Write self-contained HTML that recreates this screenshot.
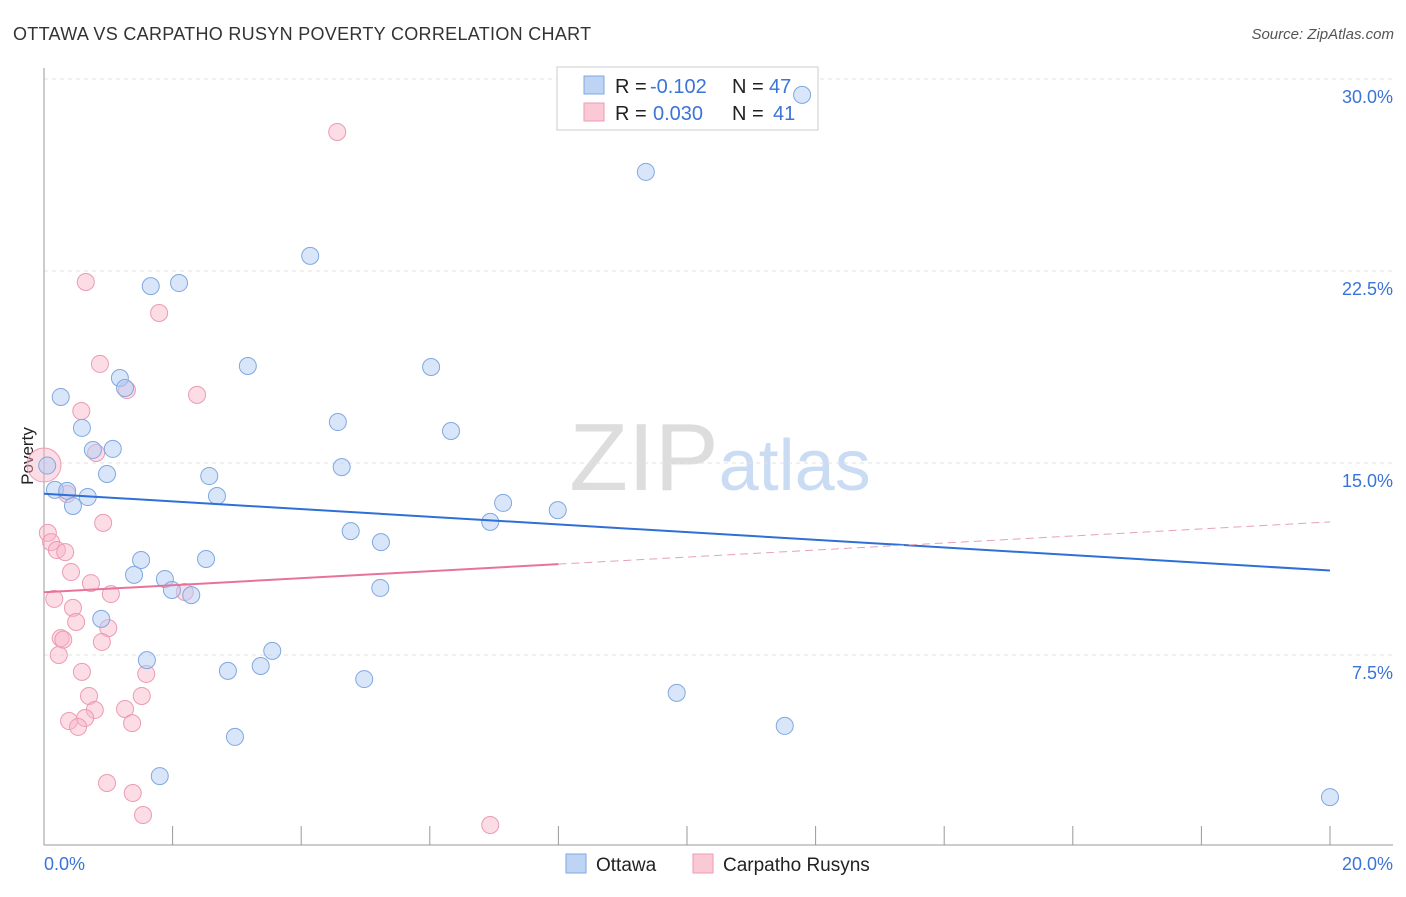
<!DOCTYPE html>
<html><head><meta charset="utf-8"><style>
body{margin:0;background:#fff;font-family:"Liberation Sans",sans-serif}
svg text{font-family:"Liberation Sans",sans-serif}
</style></head><body>
<svg id="chart" width="1406" height="892" xmlns="http://www.w3.org/2000/svg">
<text x="13" y="40" font-size="18" fill="#333" letter-spacing="0.3">OTTAWA VS CARPATHO RUSYN POVERTY CORRELATION CHART</text>
<text x="1394" y="39" font-size="15" fill="#555" font-style="italic" text-anchor="end">Source: ZipAtlas.com</text>
<text x="720" y="490" font-size="96" text-anchor="middle" fill="#ddd" font-family="Liberation Serif">ZIP<tspan fill="#c9dcf3" font-family="Liberation Sans" font-size="72">atlas</tspan></text>
<g id="grid"></g><g id="axes"></g>
<text transform="translate(33,456) rotate(-90)" font-size="17" fill="#222" text-anchor="middle">Poverty</text>
<g>
<rect x="557" y="67" width="261" height="63" fill="#fff" stroke="#ccc"/>
<rect x="584" y="76" width="20" height="18" fill="#bdd4f5" stroke="#7fa8e0"/>
<rect x="584" y="103" width="20" height="18" fill="#fbc9d6" stroke="#ec9ab2"/>
<text x="615" y="93" font-size="20" fill="#222">R =</text>
<text x="650" y="93" font-size="20" fill="#3a74d8">-0.102</text>
<text x="732" y="93" font-size="20" fill="#222">N =</text>
<text x="769" y="93" font-size="20" fill="#3a74d8">47</text>
<text x="615" y="120" font-size="20" fill="#222">R =</text>
<text x="653" y="120" font-size="20" fill="#3a74d8">0.030</text>
<text x="732" y="120" font-size="20" fill="#222">N =</text>
<text x="773" y="120" font-size="20" fill="#3a74d8">41</text>
</g>
<g id="marks"></g>
<g>
<rect x="566" y="854" width="20" height="19" fill="#bdd4f5" stroke="#7fa8e0"/>
<text x="596" y="871" font-size="19" fill="#222">Ottawa</text>
<rect x="693" y="854" width="20" height="19" fill="#fbc9d6" stroke="#ec9ab2"/>
<text x="723" y="871" font-size="19" fill="#222">Carpatho Rusyns</text>
</g>
</svg>
<script>
const xTicks=[0,2,4,6,8,10,12,14,16,18,20];
const yTicks=[7.5,15,22.5,30];
const yTickLabels=["7.5%","15.0%","22.5%","30.0%"];
const ottawaX=[11.79,9.36,4.14,1.66,2.10,3.17,6.02,0.26,1.18,1.26,4.57,6.33,0.59,0.76,1.07,4.63,0.98,2.57,0.17,0.36,0.68,2.69,0.45,7.14,7.99,6.94,4.77,5.24,1.51,2.52,1.40,1.88,1.99,2.29,5.23,0.89,1.60,3.55,3.37,2.86,4.98,9.84,2.97,11.52,1.80,20.0,0.05];
const ottawaY=[29.38,26.37,23.09,21.91,22.03,18.79,18.75,17.58,18.32,17.93,16.60,16.25,16.37,15.51,15.55,14.84,14.57,14.49,13.95,13.91,13.67,13.71,13.32,13.44,13.16,12.70,12.34,11.91,11.21,11.25,10.63,10.47,10.04,9.84,10.12,8.91,7.30,7.66,7.07,6.88,6.56,6.02,4.30,4.73,2.77,1.95,14.9];
const rusynX=[4.56,0.65,1.79,0.87,1.29,2.38,0.58,0.81,0,0.36,0.92,0.06,0.11,0.20,0.33,0.42,0.73,1.04,2.19,0.16,0.45,0.50,1.00,0.26,0.90,0.23,0.59,1.59,0.70,1.52,1.26,0.79,0.39,0.64,0.53,1.37,0.98,1.38,1.54,6.94,0.30];
const rusynY=[27.93,22.07,20.86,18.87,17.85,17.66,17.03,15.39,14.92,13.79,12.66,12.27,11.91,11.60,11.52,10.74,10.31,9.88,9.96,9.69,9.34,8.79,8.55,8.16,8.01,7.50,6.84,6.76,5.90,5.90,5.39,5.35,4.92,5.04,4.69,4.84,2.50,2.11,1.25,0.86,8.1];
const rusynSize=[10,10,10,10,10,10,10,10,20,10,10,10,10,10,10,10,10,10,10,10,10,10,10,10,10,10,10,10,10,10,10,10,10,10,10,10,10,10,10,10,10];
const ottawaTrend=[13.8,10.8];
const rusynTrend=[9.95,12.7];
const rusynSolidEnd=8;
const NS="http://www.w3.org/2000/svg";
const xs=v=>44+v/20*1286, ys=v=>847-v*25.6;
function mk(p,t,a){const e=document.createElementNS(NS,t);for(const k in a)e.setAttribute(k,a[k]);p.appendChild(e);return e;}
const grid=document.getElementById('grid'),axes=document.getElementById('axes'),marks=document.getElementById('marks');
yTicks.forEach((v,i)=>{
 const l=mk(grid,'line',{x1:44,x2:1393,y1:ys(v),y2:ys(v),stroke:'#e2e2e2','stroke-dasharray':'4,4'});
 
 
 const t=mk(axes,'text',{x:1393,y:ys(v)+24,'font-size':18,fill:'#3a74d8','text-anchor':'end'});t.textContent=yTickLabels[i];
 
 
});
const ax=mk(axes,'line',{x1:44,x2:44,y1:68,y2:845,stroke:'#999'});


const bx=mk(axes,'line',{x1:44,x2:1393,y1:845,y2:845,stroke:'#999'});


xTicks.forEach(v=>{const l=mk(axes,'line',{x1:xs(v),x2:xs(v),y1:826,y2:845,stroke:'#999'});
 
 });
[[0,"0.0%","start",44],[20,"20.0%","end",1393]].forEach(d=>{const t=mk(axes,'text',{x:d[3],y:870,'font-size':18,fill:'#3a74d8','text-anchor':d[2]});t.textContent=d[1];
 
 });
rusynX.forEach((x,i)=>{const c=mk(marks,'circle',{cx:xs(x),cy:ys(rusynY[i]),r:rusynSize[i]*0.85,fill:'rgba(248,180,200,0.45)',stroke:'#ec9ab2','stroke-width':1});
 
 });
ottawaX.forEach((x,i)=>{const c=mk(marks,'circle',{cx:xs(x),cy:ys(ottawaY[i]),r:8.5,fill:'rgba(180,205,245,0.5)',stroke:'#7fa8e0','stroke-width':1});
 
 });
const ry=x=>rusynTrend[0]+(rusynTrend[1]-rusynTrend[0])*x/20;
const l1=mk(marks,'line',{x1:xs(0),y1:ys(ottawaTrend[0]),x2:xs(20),y2:ys(ottawaTrend[1]),stroke:'#2f6fd6','stroke-width':2});


const l2=mk(marks,'line',{x1:xs(0),y1:ys(ry(0)),x2:xs(rusynSolidEnd),y2:ys(ry(rusynSolidEnd)),stroke:'#e8739a','stroke-width':2});


const l3=mk(marks,'line',{x1:xs(rusynSolidEnd),y1:ys(ry(rusynSolidEnd)),x2:xs(20),y2:ys(ry(20)),stroke:'#e8a0b8','stroke-width':1,'stroke-dasharray':'8,5'});


</script>
</body></html>
